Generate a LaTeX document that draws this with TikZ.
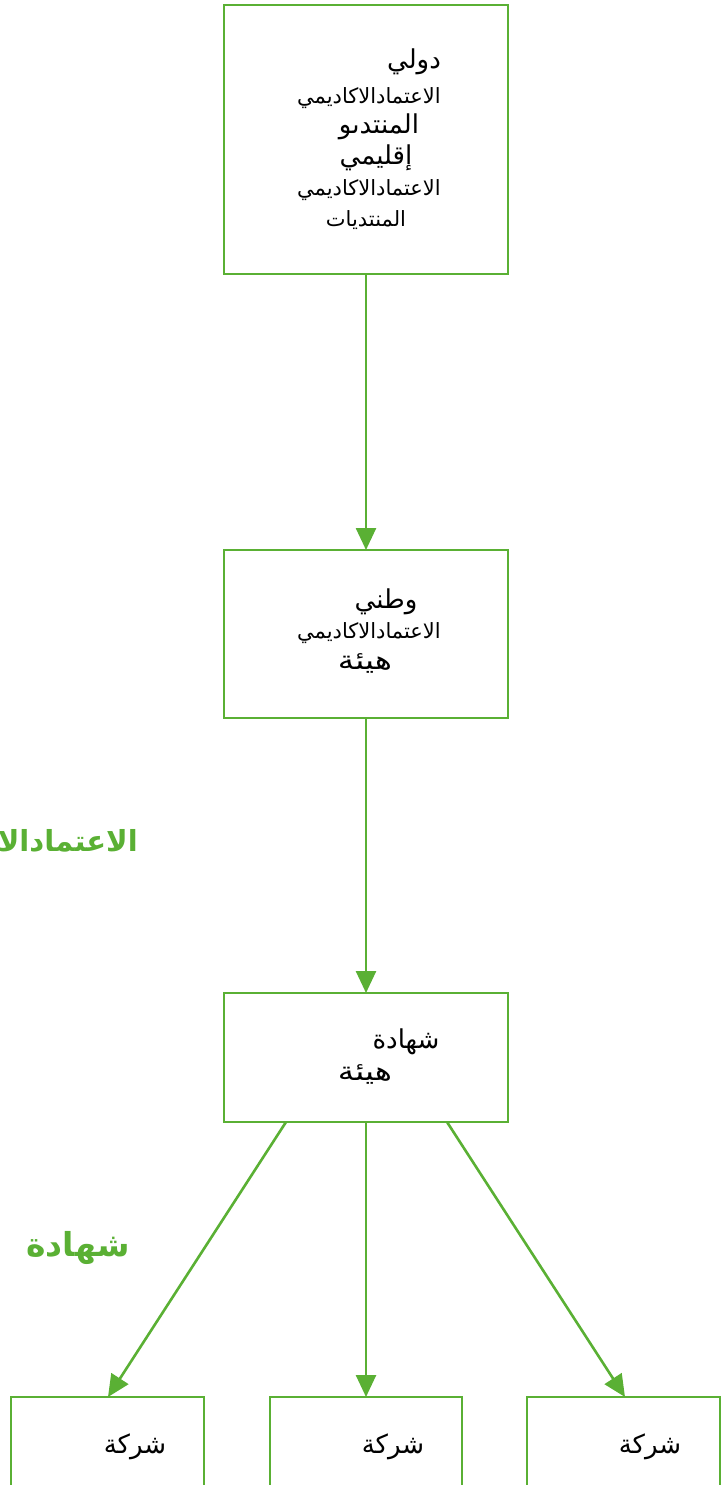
\documentclass[tikz,border=0pt]{standalone}
\usepackage{fontspec}
\usetikzlibrary{arrows.meta}
\TeXXeTstate=1
\newfontfamily\arabicfont[Script=Arabic]{DejaVu Sans}
\definecolor{grn}{RGB}{90,176,52}
\tikzset{
  box/.style={draw=grn, line width=2.6pt, fill=white},
  conn/.style={draw=grn, line width=2.6pt, -{Triangle[length=22pt,width=20pt]}},
  big/.style={font=\arabicfont\fontsize{26}{30}\selectfont, inner sep=0pt},
  small/.style={font=\arabicfont\fontsize{21}{24}\selectfont, inner sep=0pt},
  glabel/.style={font=\arabicfont\bfseries\fontsize{33}{38}\selectfont, text=grn, inner sep=0pt},
}
\begin{document}
\begin{tikzpicture}[x=1pt,y=-1pt]
\useasboundingbox (0,0) rectangle (722,1485);
\clip (0,0) rectangle (722,1485);
% boxes
\draw[box] (224,5) rectangle (508,274);
\coordinate (b1top) at (366,274);
\draw[box] (224,550) rectangle (508,718);
\coordinate (b2top) at (366,550);
\coordinate (b2bot) at (366,718);
\draw[box] (224,993) rectangle (508,1122);
\coordinate (b3top) at (366,993);
\coordinate (b3l) at (286,1122);
\coordinate (b3m) at (366,1122);
\coordinate (b3r) at (447,1122);
\draw[box] (11,1397) rectangle (204,1495);
\draw[box] (270,1397) rectangle (462,1495);
\draw[box] (527,1397) rectangle (720,1495);
\coordinate (c1) at (108,1397);
\coordinate (c2) at (366,1397);
\coordinate (c3) at (625,1397);
% connectors
\draw[conn] (b1top) -- (b2top);
\draw[conn] (b2bot) -- (b3top);
\draw[conn] (b3l) -- (c1);
\draw[conn] (b3m) -- (c2);
\draw[conn] (b3r) -- (c3);
% texts box 1
\node[big] (t1) at (414,62) {\beginR دولي\endR};
\node[small] (t2) at (369,98) {\beginR الاعتمادالاكاديمي\endR};
\node[big] (t3) at (379,127) {\beginR المنتدىو\endR};
\node[big] (t4) at (376,158) {\beginR إقليمي\endR};
\node[small] (t5) at (369,190) {\beginR الاعتمادالاكاديمي\endR};
\node[small] (t6) at (366,220) {\beginR المنتديات\endR};
% box 2
\node[big] (u1) at (386,602) {\beginR وطني\endR};
\node[small] (u2) at (369,633) {\beginR الاعتمادالاكاديمي\endR};
\node[big, xscale=1.25] (u3) at (365,663) {\beginR هيئة\endR};
% box 3
\node[big] (v1) at (406,1042) {\beginR شهادة\endR};
\node[big, xscale=1.25] (v2) at (365,1074) {\beginR هيئة\endR};
% bottom
\node[big] (w1) at (135,1447) {\beginR شركة\endR};
\node[big] (w2) at (393,1447) {\beginR شركة\endR};
\node[big] (w3) at (650,1447) {\beginR شركة\endR};
% green labels
\node[glabel, font=\arabicfont\bfseries\fontsize{29}{34}\selectfont, anchor=east] (g1) at (138,844) {\beginR الاعتمادالاكاديمي\endR};
\node[glabel] (g2) at (78,1248) {\beginR شهادة\endR};
\end{tikzpicture}
\end{document}
